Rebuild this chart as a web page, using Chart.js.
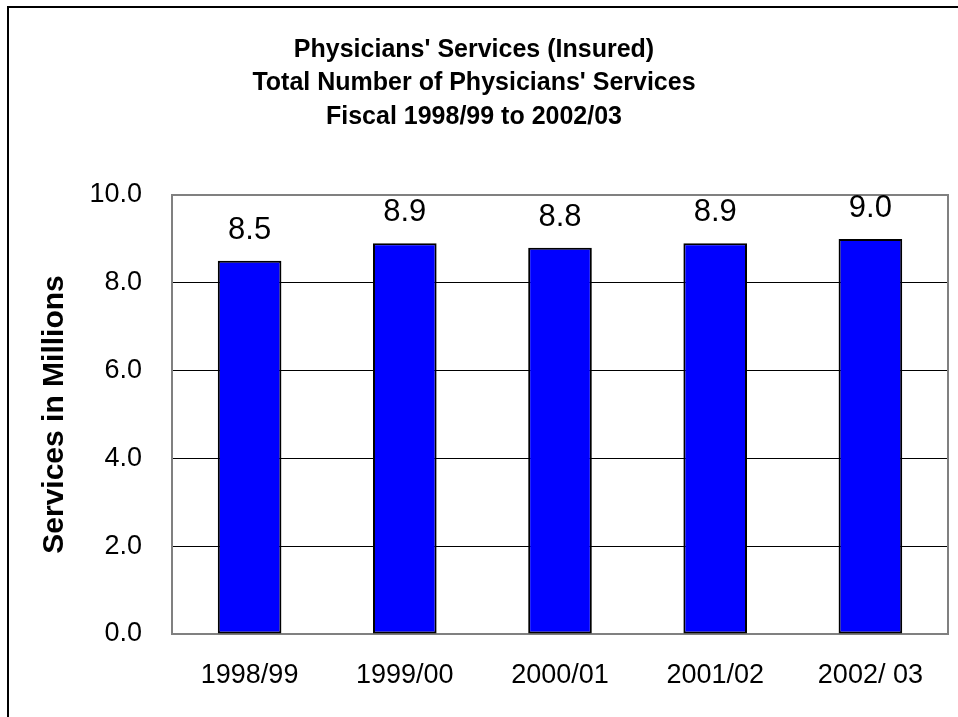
<!DOCTYPE html>
<html><head><meta charset="utf-8">
<style>html,body{margin:0;padding:0;background:#fff;overflow:hidden}#wrap{position:relative;width:958px;height:717px}</style>
<script src="https://cdn.jsdelivr.net/npm/chart.js@4/dist/chart.umd.min.js"></script>
</head><body><div id="wrap"><canvas id="c" width="958" height="717"></canvas></div>
<script>
const categories = ['1998/99', '1999/00', '2000/01', '2001/02', '2002/ 03'];
const services = [8.5, 8.9, 8.8, 8.9, 9.0];
const titleLines = ["Physicians' Services (Insured)", "Total Number of Physicians' Services", "Fiscal 1998/99 to 2002/03"];
const yTitle = 'Services in Millions';
const FONT = "'Liberation Sans', Arial, sans-serif";

const framePlugin = {
  id: 'frame',
  beforeDatasetsDraw(chart) {
    const {ctx, chartArea: a} = chart;
    ctx.save();
    ctx.strokeStyle = '#808080';
    ctx.lineWidth = 2;
    ctx.strokeRect(a.left, a.top, a.right - a.left, a.bottom - a.top);
    ctx.restore();
  },
  afterDraw(chart) {
    const {ctx} = chart;
    ctx.save();
    ctx.strokeStyle = '#000';
    ctx.lineWidth = 2;
    ctx.strokeRect(8, 7, 1200, 1200);
    // value labels
    const meta = chart.getDatasetMeta(0);
    ctx.fillStyle = '#000';
    ctx.font = '31px ' + FONT;
    ctx.textAlign = 'center';
    ctx.textBaseline = 'alphabetic';
    meta.data.forEach((bar, i) => {
      ctx.fillText(services[i].toFixed(1), bar.x, bar.y - 22);
    });
    ctx.restore();
  }
};

new Chart(document.getElementById('c'), {
  type: 'bar',
  data: {
    labels: categories,
    datasets: [{
      data: services,
      backgroundColor: '#0000FF',
      borderColor: '#000',
      borderWidth: 2,
      borderSkipped: false,
      barPercentage: 0.41,
      categoryPercentage: 1
    }]
  },
  options: {
    responsive: false,
    animation: false,
    devicePixelRatio: 1,
    layout: {padding: {left: 0, right: 10, top: 0, bottom: 0}},
    plugins: {
      legend: {display: false},
      tooltip: {enabled: false},
      title: {
        display: true,
        text: titleLines,
        color: '#000',
        font: {family: FONT, size: 25, weight: 'bold', lineHeight: 1.34},
        padding: {top: 33, bottom: 61.5}
      }
    },
    scales: {
      x: {
        grid: {display: false, drawTicks: false},
        border: {display: false},
        ticks: {color: '#000', font: {family: FONT, size: 27}, padding: 25, maxRotation: 0},
        afterFit(s) { s.height = 83; }
      },
      y: {
        min: 0, max: 10,
        ticks: {stepSize: 2, color: '#000', font: {family: FONT, size: 27}, padding: 30,
          callback: v => Number(v).toFixed(1)},
        grid: {drawTicks: false, color: ctx => (ctx.tick && (ctx.tick.value === 0 || ctx.tick.value === 10)) ? 'rgba(0,0,0,0)' : '#000', lineWidth: 1},
        border: {display: false},
        title: {display: true, text: yTitle, color: '#000', font: {family: FONT, size: 30, weight: 'bold'}, padding: {top: 36.5, bottom: 0}},
        afterFit(s) { s.width = 172; }
      }
    }
  },
  plugins: [framePlugin]
});
</script></body></html>
